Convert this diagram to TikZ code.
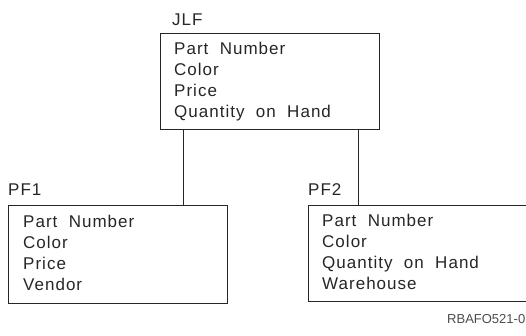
\documentclass[tikz,border=0pt]{standalone}
\usepackage{fontspec}
\setmainfont{Liberation Sans}[LetterSpace=6]
\begin{document}
\begin{tikzpicture}[x=1pt,y=-1pt,
  box/.style={draw=black!85, line width=1.1pt, rectangle, inner sep=0pt, anchor=north west},
  body/.style={anchor=base west, inner sep=0pt, text width=200pt, align=left,
    font=\fontsize{17}{21}\selectfont, text=black!85},
  title/.style={anchor=base west, inner sep=0pt, font=\fontsize{17}{21}\selectfont, text=black!85},
  link/.style={draw=black!85, line width=1pt}]
\useasboundingbox (0,0) rectangle (526,335);
% boxes
\node[box, minimum width=219pt, minimum height=96pt] (jlf) at (160,33) {};
\node[box, minimum width=219pt, minimum height=98pt] (pf1) at (8,205) {};
\node[box, minimum width=230pt, minimum height=96pt] (pf2) at (308,205) {};
% titles
\node[title] (tjlf) at (172,25) {JLF};
\node[title] (tpf1) at (8,195) {PF1};
\node[title] (tpf2) at (308,195) {PF2};
% contents
\node[body] (cjlf) at (174,54.5) {Part\ \ Number\\Color\\Price\\Quantity\ \ on\ \ Hand};
\node[body] (cpf1) at (23,227) {Part\ \ Number\\Color\\Price\\Vendor};
\node[body] (cpf2) at (322,226) {Part\ \ Number\\Color\\Quantity\ \ on\ \ Hand\\Warehouse};
% connectors
\coordinate (a1) at (183,129);
\coordinate (a2) at (358,129);
\draw[link] (jlf.south west -| a1) -- (pf1.north west -| a1);
\draw[link] (jlf.south west -| a2) -- (pf2.north west -| a2);
% figure id
\node[anchor=base west, inner sep=0pt, font=\fontsize{13}{16}\selectfont\addfontfeature{LetterSpace=0}, text=black!70] (fid) at (447,323) {RBAFO521-0};
\end{tikzpicture}
\end{document}
